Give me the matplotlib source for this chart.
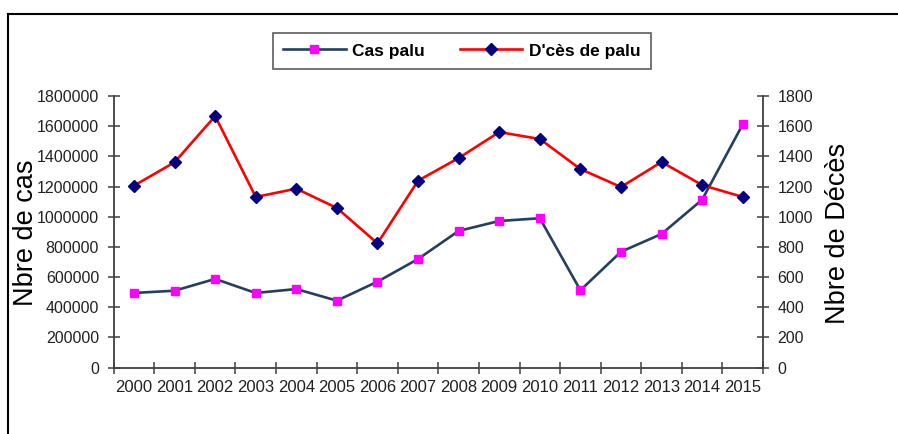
import matplotlib
matplotlib.use("Agg")
import matplotlib.pyplot as plt
from matplotlib.lines import Line2D
from matplotlib import font_manager
import numpy as np

years = ["2000", "2001", "2002", "2003", "2004", "2005", "2006", "2007",
         "2008", "2009", "2010", "2011", "2012", "2013", "2014", "2015"]
cas_palu = [495000, 510000, 588000, 495000, 521000, 444000, 570000, 720000,
            906000, 972000, 990000, 513000, 768000, 886000, 1113000, 1612000]
deces_palu = [1206, 1361, 1667, 1131, 1186, 1058, 824, 1239,
              1389, 1561, 1515, 1316, 1197, 1363, 1210, 1131]
left_ticks = list(range(0, 1800001, 200000))
right_ticks = list(range(0, 1801, 200))

names = {f.name for f in font_manager.fontManager.ttflist}
narrow = "Liberation Sans Narrow" if "Liberation Sans Narrow" in names else "Liberation Sans"
plt.rcParams["font.family"] = ["Liberation Sans", "DejaVu Sans"]

fig = plt.figure(figsize=(8.98, 4.34), dpi=100)
ax = fig.add_axes([0.1266, 0.1528, 0.8497 - 0.1266, 0.7788 - 0.1528])
ax2 = ax.twinx()

x = np.arange(len(years))
l1, = ax.plot(x, cas_palu, color="#243F60", lw=1.9, marker="s", ms=6,
              mfc="#FF00FF", mec="#FF00FF", label="Cas palu", zorder=3)
l2, = ax2.plot(x, deces_palu, color="#FF0000", lw=1.9, marker="D", ms=6,
               mfc="#000080", mec="#000080", label="D'cès de palu", zorder=3)

ax.set_xlim(-0.5, len(years) - 0.5)
ax.set_ylim(0, 1800000)
ax2.set_ylim(0, 1800)
ax.set_yticks(left_ticks)
ax.set_yticklabels([str(v) for v in left_ticks])
ax2.set_yticks(right_ticks)
ax2.set_yticklabels([str(v) for v in right_ticks])

ax.set_xticks(np.arange(-0.5, len(years), 1.0))
ax.set_xticklabels([])
ax.set_xticks(x, minor=True)
ax.set_xticklabels(years, minor=True, fontsize=12, family=[narrow, "DejaVu Sans"])
ax.tick_params(axis="x", which="minor", length=0, pad=9)

spc = "#404040"
for a in (ax, ax2):
    for s in a.spines.values():
        s.set_visible(False)
        s.set_color(spc)
        s.set_linewidth(1.3)
ax.spines["left"].set_visible(True)
ax.spines["bottom"].set_visible(True)
ax2.spines["right"].set_visible(True)

ax.tick_params(axis="x", which="major", direction="inout", length=9, width=1.1, color=spc)
ax.tick_params(axis="y", direction="inout", length=9, width=1.1, color=spc,
               labelsize=11.5, labelcolor="#222222", pad=6)
ax2.tick_params(axis="y", direction="inout", length=9, width=1.1, color=spc,
                labelsize=11.5, labelcolor="#222222", pad=6)
ax.tick_params(axis="x", which="minor", labelcolor="#222222")

fig.text(0.029, 0.463, "Nbre de cas", rotation=90, fontsize=19.5,
         ha="center", va="center", transform=fig.transFigure)
fig.text(0.933, 0.462, "Nbre de Décès", rotation=90, fontsize=19.5,
         ha="center", va="center", transform=fig.transFigure)

leg = fig.legend(handles=[l1, l2], loc="center", bbox_to_anchor=(0.5145, 0.8825),
                 ncol=2, frameon=True, fancybox=False, edgecolor="#333333",
                 prop={"size": 12.5, "weight": "bold"}, handlelength=3.6,
                 columnspacing=2.0, handletextpad=0.4, borderpad=0.6,
                 borderaxespad=0)
leg.get_frame().set_linewidth(1.2)

# outer frame (top and left only)
fig.add_artist(Line2D([0.009, 0.009], [0.0, 0.968], color="black", lw=1.5,
                      transform=fig.transFigure))
fig.add_artist(Line2D([0.009, 1.0], [0.968, 0.968], color="black", lw=1.5,
                      transform=fig.transFigure))

fig.savefig("out.png", dpi=100)
